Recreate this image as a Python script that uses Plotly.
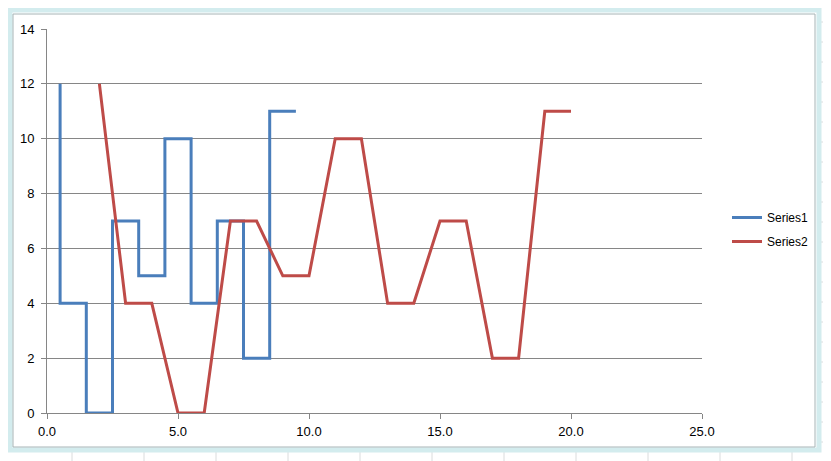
import plotly.graph_objects as go

s1_x = [0.5, 0.5, 1.5, 1.5, 2.5, 2.5, 3.5, 3.5, 4.5, 4.5, 5.5, 5.5, 6.5, 6.5, 7.5, 7.5, 8.5, 8.5, 9.5]
s1_y = [12, 4, 4, 0, 0, 7, 7, 5, 5, 10, 10, 4, 4, 7, 7, 2, 2, 11, 11]
s2_x = [2, 3, 4, 5, 6, 7, 8, 9, 10, 11, 12, 13, 14, 15, 16, 17, 18, 19, 20]
s2_y = [12, 4, 4, 0, 0, 7, 7, 5, 5, 10, 10, 4, 4, 7, 7, 2, 2, 11, 11]
x_ticks = [0, 5, 10, 15, 20, 25]
x_tick_labels = ["0.0", "5.0", "10.0", "15.0", "20.0", "25.0"]
y_ticks = [0, 2, 4, 6, 8, 10, 12, 14]

VW, VH = 831, 461
OFF = 8  # page body margin
W, H = VW - OFF, VH - OFF
L, R, T, B = 47, 702, 29, 413  # plot area in viewport pixels

fig = go.Figure()
fig.add_trace(go.Scatter(x=s1_x, y=s1_y, mode="lines", name="Series1", legendgroup="a",
                         line=dict(color="#4A7EBB", width=3)))
fig.add_trace(go.Scatter(x=s2_x, y=s2_y, mode="lines", name="Series2", legendgroup="b",
                         line=dict(color="#BE4B48", width=3)))

def px(x):
    return (x - L) / (R - L)

def py(y):
    return (B - y) / (B - T)

shapes = []
# spreadsheet cell grid behind the chart
for gx in range(72, VW, 72):
    shapes.append(dict(type="line", xref="paper", yref="paper",
                       x0=px(gx), x1=px(gx), y0=py(VH), y1=py(OFF),
                       line=dict(color="#DADCDD", width=1), layer="below"))
for gy in range(22, VH, 20):
    shapes.append(dict(type="line", xref="paper", yref="paper",
                       x0=px(OFF), x1=px(VW), y0=py(gy), y1=py(gy),
                       line=dict(color="#DADCDD", width=1), layer="below"))
# chart frame
shapes.append(dict(type="rect", xref="paper", yref="paper",
                   x0=px(10), x1=px(819), y0=py(450), y1=py(10),
                   line=dict(color="#D3ECEE", width=5), fillcolor="white", layer="below"))
shapes.append(dict(type="rect", xref="paper", yref="paper",
                   x0=px(13), x1=px(815), y0=py(447), y1=py(14),
                   line=dict(color="#A6B4B6", width=1), fillcolor="white", layer="below"))

fig.update_layout(
    width=W, height=H,
    margin=dict(l=L - OFF, r=VW - R, t=T - OFF, b=VH - B),
    paper_bgcolor="white",
    plot_bgcolor="rgba(0,0,0,0)",
    font=dict(family="Liberation Sans, Arial, sans-serif", size=13, color="#000000"),
    shapes=shapes,
    showlegend=True,
    legend=dict(x=px(727), y=py(203), xanchor="left", yanchor="top",
                bgcolor="rgba(0,0,0,0)", font=dict(size=12),
                tracegroupgap=5, itemwidth=30),
    xaxis=dict(range=[0, 25], tickvals=x_ticks, ticktext=x_tick_labels,
               showgrid=False, zeroline=False, showline=True, linecolor="#868686",
               linewidth=1, ticks="outside", ticklen=5, tickcolor="#868686",
               ticklabelstandoff=1, fixedrange=True),
    yaxis=dict(range=[0, 14], tickvals=y_ticks, showgrid=True, gridcolor="#868686",
               gridwidth=1, zeroline=False, showline=True, linecolor="#868686",
               linewidth=1, ticks="outside", ticklen=5, tickcolor="#868686",
               ticklabelstandoff=4, fixedrange=True),
)

fig.write_html("out.html")
